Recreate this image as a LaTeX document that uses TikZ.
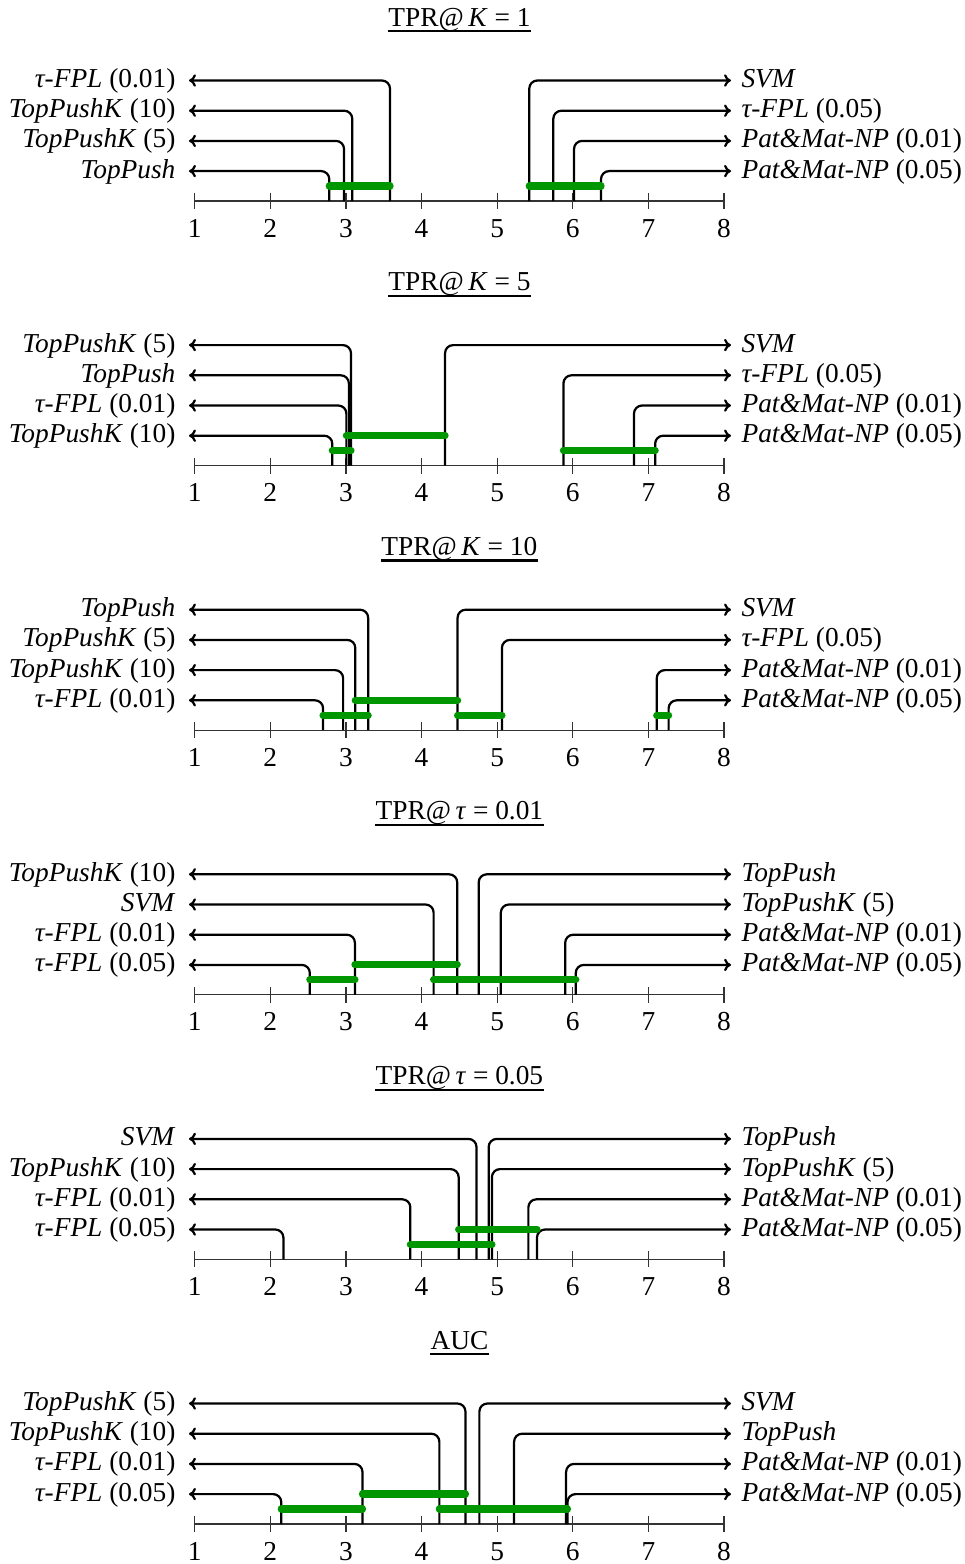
\documentclass[tikz,border=0pt]{standalone}
\usepackage{fontspec}
\setmainfont{Liberation Serif}
\usetikzlibrary{arrows.meta}
\definecolor{cdgreen}{RGB}{0,150,0}
\tikzset{
  conn/.style={line width=0.8pt, rounded corners=2.9pt, -{To[length=2.5pt,width=4.5pt]}},
  axisline/.style={line width=0.45pt, black!80},
  cdbar/.style={line width=2.6pt, cdgreen, line cap=round},
  leftlab/.style={anchor=east, inner xsep=4.7pt, inner ysep=0pt, text height=7pt, text depth=2pt, font=\fontsize{9.85}{11}\selectfont},
  rightlab/.style={anchor=west, inner xsep=3.6pt, inner ysep=0pt, text height=7pt, text depth=2pt, font=\fontsize{9.85}{11}\selectfont},
  ticklab/.style={anchor=base, inner sep=0pt, font=\fontsize{9.85}{11}\selectfont},
  titlelab/.style={anchor=base, inner sep=0pt, font=\fontsize{9.85}{11}\selectfont},
  uline/.style={line width=0.8pt},
}
\newcommand\cdpanel[5]{%
  \pgfmathsetmacro\oy{264.6*#1}
  \node[titlelab] (title#1) at (459.4, {26+\oy}) {#2};
  \draw[uline] ([yshift=-1.9pt]title#1.base west) -- ([yshift=-1.9pt]title#1.base east);
  \coordinate (axL#1) at (194.7, {201+\oy});
  \coordinate (axR#1) at (724, {201+\oy});
  \draw[axisline] (axL#1) -- (axR#1);
  \foreach \t in {1,...,8}{
    \coordinate (tk#1-\t) at ({194.7+(\t-1)*75.61}, {201+\oy});
    \draw[axisline] ([yshift=2.9pt]tk#1-\t) -- ([yshift=-2.9pt]tk#1-\t);
    \node[ticklab] (tl#1-\t) at ({194.7+(\t-1)*75.61}, {237+\oy}) {\t};
  }
  \foreach \r/\lab [count=\i] in {#3}{
    \node[leftlab] (L#1-\i) at (189, {80.5+30.2*(\i-1)+\oy}) {\lab};
    \coordinate (LA#1-\i) at ({194.7+(\r-1)*75.61}, {201+\oy});
    \draw[conn] (LA#1-\i) |- (L#1-\i.east);
  }
  \foreach \r/\lab [count=\i] in {#4}{
    \node[rightlab] (R#1-\i) at (731, {80.5+30.2*(\i-1)+\oy}) {\lab};
    \coordinate (RA#1-\i) at ({194.7+(\r-1)*75.61}, {201+\oy});
    \draw[conn] (RA#1-\i) |- (R#1-\i.west);
  }
  \foreach \a/\b/\lv [count=\i] in {#5}{
    \coordinate (BA#1-\i) at ({194.7+(\a-1)*75.61}, {\lv+\oy});
    \coordinate (BB#1-\i) at ({194.7+(\b-1)*75.61}, {\lv+\oy});
    \draw[cdbar] (BA#1-\i) -- (BB#1-\i);
  }
}
\newcommand\TP{\textit{TopPush}}
\newcommand\TPK[1]{\textit{TopPushK} (#1)}
\newcommand\TF[1]{\textit{τ-FPL} (#1)}
\newcommand\PM[1]{\textit{Pat\&Mat-NP} (#1)}
\begin{document}
\begin{tikzpicture}[x=0.36pt,y=-0.36pt]
\useasboundingbox (0,0) rectangle (965,1564);
\cdpanel{0}{TPR@\,\textit{K} = 1}
  {3.583/{\TF{0.01}}, 3.084/{\TPK{10}}, 2.975/{\TPK{5}}, 2.78/{\TP}}
  {5.425/{\textit{SVM}}, 5.743/{\TF{0.05}}, 6.017/{\PM{0.01}}, 6.374/{\PM{0.05}}}
  {2.78/3.583/186, 5.425/6.374/186}
\cdpanel{1}{TPR@\,\textit{K} = 5}
  {3.067/{\TPK{5}}, 3.039/{\TP}, 3.006/{\TF{0.01}}, 2.82/{\TPK{10}}}
  {4.311/{\textit{SVM}}, 5.877/{\TF{0.05}}, 6.81/{\PM{0.01}}, 7.09/{\PM{0.05}}}
  {3.006/4.311/171, 2.82/3.067/186, 5.877/7.09/186}
\cdpanel{2}{TPR@\,\textit{K} = 10}
  {3.294/{\TP}, 3.124/{\TPK{5}}, 2.963/{\TPK{10}}, 2.698/{\TF{0.01}}}
  {4.477/{\textit{SVM}}, 5.063/{\TF{0.05}}, 7.111/{\PM{0.01}}, 7.268/{\PM{0.05}}}
  {3.124/4.477/171, 2.698/3.294/186, 4.477/5.063/186, 7.111/7.268/186}
\cdpanel{3}{TPR@\,\textit{τ} = 0.01}
  {4.472/{\TPK{10}}, 4.16/{\textit{SVM}}, 3.119/{\TF{0.01}}, 2.523/{\TF{0.05}}}
  {4.756/{\TP}, 5.049/{\TPK{5}}, 5.90/{\PM{0.01}}, 6.04/{\PM{0.05}}}
  {3.119/4.472/171, 2.523/3.119/186, 4.16/6.04/186}
\cdpanel{4}{TPR@\,\textit{τ} = 0.05}
  {4.727/{\textit{SVM}}, 4.491/{\TPK{10}}, 3.852/{\TF{0.01}}, 2.173/{\TF{0.05}}}
  {4.888/{\TP}, 4.931/{\TPK{5}}, 5.413/{\PM{0.01}}, 5.527/{\PM{0.05}}}
  {4.491/5.527/171, 3.852/4.931/186}
\cdpanel{5}{AUC}
  {4.581/{\TPK{5}}, 4.236/{\TPK{10}}, 3.219/{\TF{0.01}}, 2.145/{\TF{0.05}}}
  {4.765/{\textit{SVM}}, 5.224/{\TP}, 5.912/{\PM{0.01}}, 5.93/{\PM{0.05}}}
  {3.219/4.581/171, 2.145/3.219/186, 4.236/5.93/186}
\end{tikzpicture}
\end{document}
